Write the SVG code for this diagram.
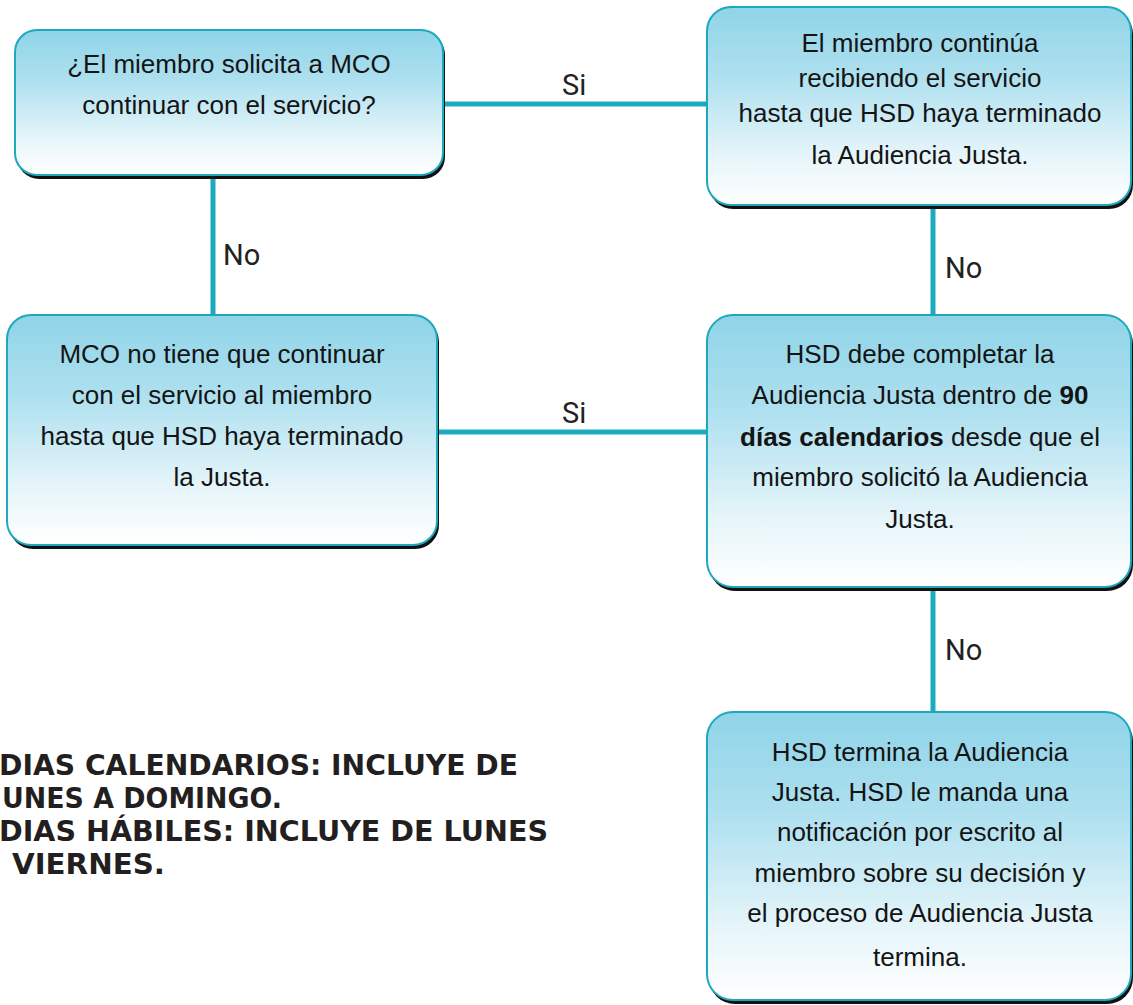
<svg xmlns="http://www.w3.org/2000/svg" width="1133" height="1005" viewBox="0 0 1133 1005">
<defs>
<linearGradient id="g" x1="0" y1="0" x2="0" y2="1">
<stop offset="0" stop-color="#8fd4e8"/>
<stop offset="0.35" stop-color="#aee0ef"/>
<stop offset="0.75" stop-color="#e6f5fa"/>
<stop offset="1" stop-color="#ffffff"/>
</linearGradient>
<style>
.box{fill:url(#g);stroke:#1ea8bd;stroke-width:2}
.sh{fill:#111}
.t{font-family:"Liberation Sans",Arial,sans-serif;font-size:26px;fill:#141414;text-anchor:middle}
.b{font-weight:bold}
.lbl{font-family:Roboto,"Liberation Sans",sans-serif;font-size:29px;fill:#222}
.c{stroke:#1aabbf;stroke-width:5;fill:none}
.note{font-family:"DejaVu Sans",Verdana,sans-serif;font-weight:bold;font-size:29px;fill:#231f20}
</style>
</defs>
<rect width="1133" height="1005" fill="#fff"/>
<g id="connectors">
<line class="c" x1="443" y1="104" x2="707" y2="104"/>
<line class="c" x1="213" y1="175" x2="213" y2="315"/>
<line class="c" x1="933" y1="205" x2="933" y2="315"/>
<line class="c" x1="437" y1="432" x2="707" y2="432"/>
<line class="c" x1="933" y1="587" x2="933" y2="712"/>
<text class="lbl" x="562" y="95">Si</text>
<text class="lbl" x="223" y="265">No</text>
<text class="lbl" x="945" y="278">No</text>
<text class="lbl" x="562" y="423">Si</text>
<text class="lbl" x="945" y="660">No</text>
</g>
<g id="n1">
<rect class="sh" x="17" y="33" width="428" height="146" rx="22"/>
<rect class="box" x="15" y="30" width="428" height="145" rx="22"/>
<text class="t" x="229" y="73">¿El miembro solicita a MCO</text>
<text class="t" x="229" y="114">continuar con el servicio?</text>
</g>
<g id="n2">
<rect class="sh" x="709" y="10" width="424" height="199" rx="24"/>
<rect class="box" x="707" y="7" width="424" height="198" rx="24"/>
<text class="t" x="920" y="52">El miembro continúa</text>
<text class="t" x="920" y="87">recibiendo el servicio</text>
<text class="t" x="920" y="122">hasta que HSD haya terminado</text>
<text class="t" x="920" y="164">la Audiencia Justa.</text>
</g>
<g id="n3">
<rect class="sh" x="9" y="318" width="430" height="231" rx="24"/>
<rect class="box" x="7" y="315" width="430" height="230" rx="24"/>
<text class="t" x="222" y="363">MCO no tiene que continuar</text>
<text class="t" x="222" y="404">con el servicio al miembro</text>
<text class="t" x="222" y="445">hasta que HSD haya terminado</text>
<text class="t" x="222" y="486">la Justa.</text>
</g>
<g id="n4">
<rect class="sh" x="709" y="318" width="424" height="273" rx="26"/>
<rect class="box" x="707" y="315" width="424" height="272" rx="26"/>
<text class="t" x="920" y="363">HSD debe completar la</text>
<text class="t" x="920" y="404">Audiencia Justa dentro de <tspan class="b">90</tspan></text>
<text class="t" x="920" y="446"><tspan class="b">días calendarios</tspan> desde que el</text>
<text class="t" x="920" y="486">miembro solicitó la Audiencia</text>
<text class="t" x="920" y="528">Justa.</text>
</g>
<g id="n5">
<rect class="sh" x="709" y="715" width="424" height="289" rx="26"/>
<rect class="box" x="707" y="712" width="424" height="288" rx="26"/>
<text class="t" x="920" y="761">HSD termina la Audiencia</text>
<text class="t" x="920" y="801">Justa. HSD le manda una</text>
<text class="t" x="920" y="841">notificación por escrito al</text>
<text class="t" x="920" y="882">miembro sobre su decisión y</text>
<text class="t" x="920" y="922">el proceso de Audiencia Justa</text>
<text class="t" x="920" y="966">termina.</text>
</g>
<g id="note">
<text class="note" x="-1" y="775" textLength="519" lengthAdjust="spacingAndGlyphs">DIAS CALENDARIOS: INCLUYE DE</text>
<text class="note" x="2" y="808" textLength="280" lengthAdjust="spacingAndGlyphs">UNES A DOMINGO.</text>
<text class="note" x="-1" y="841" textLength="549" lengthAdjust="spacingAndGlyphs">DIAS HÁBILES: INCLUYE DE LUNES</text>
<text class="note" x="12" y="874" textLength="153" lengthAdjust="spacingAndGlyphs">VIERNES.</text>
</g>
</svg>
